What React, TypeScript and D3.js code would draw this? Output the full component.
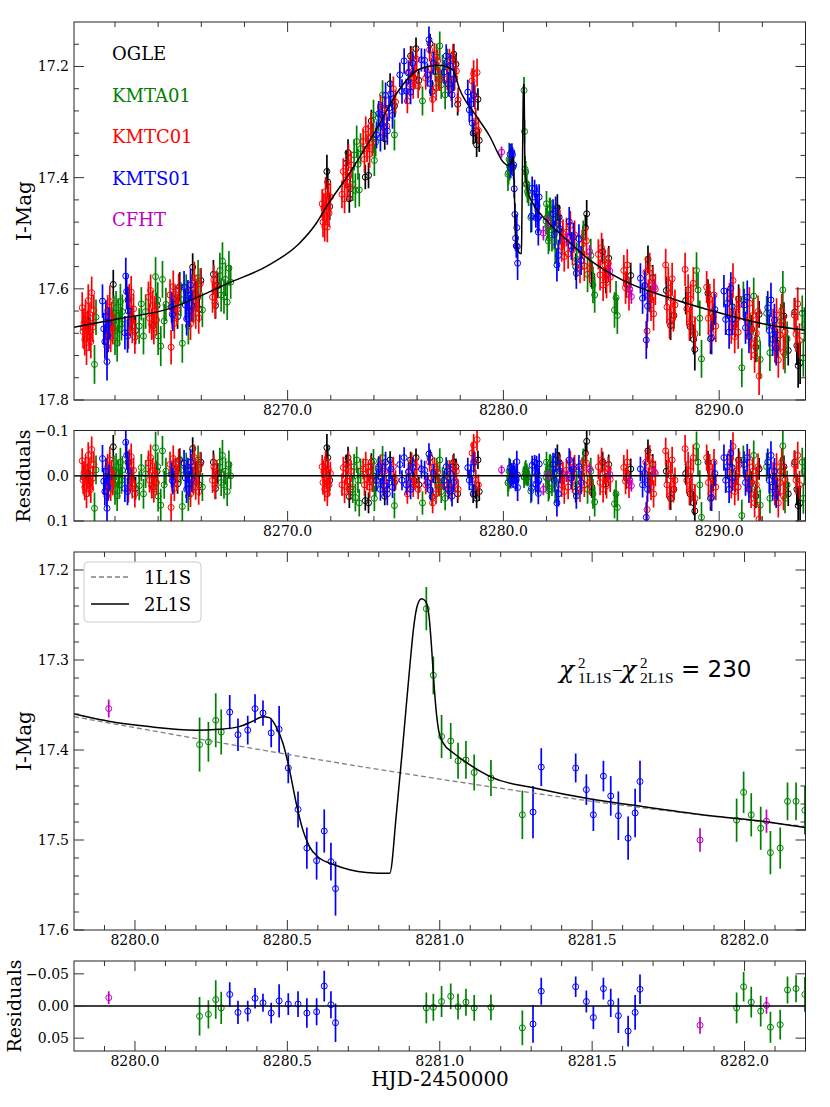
import * as d3 from "d3";
import * as React from "react";

// each point: [HJD-2450000, I mag, error, residual]
type Pt = [number, number, number, number];

const ogle: Pt[] = [
  [8260.55, 17.670, 0.024, 0.003], [8260.75, 17.661, 0.022, -0.005], [8260.85, 17.678, 0.025, 0.013],
  [8261.75, 17.666, 0.023, 0.008], [8261.92, 17.592, 0.026, -0.064], [8262.60, 17.620, 0.024, -0.030],
  [8262.78, 17.652, 0.022, 0.004], [8262.95, 17.675, 0.025, 0.028], [8263.78, 17.666, 0.024, 0.025],
  [8263.95, 17.630, 0.023, -0.010], [8264.72, 17.618, 0.025, -0.015], [8264.90, 17.650, 0.022, 0.018],
  [8265.00, 17.596, 0.026, -0.035], [8265.60, 17.561, 0.025, -0.060], [8265.75, 17.609, 0.023, -0.010],
  [8265.90, 17.636, 0.024, 0.020], [8265.98, 17.585, 0.022, -0.030], [8266.56, 17.574, 0.026, -0.030],
  [8266.66, 17.630, 0.024, 0.028], [8266.76, 17.594, 0.023, -0.005], [8271.82, 17.389, 0.030, -0.062],
  [8271.86, 17.408, 0.026, -0.040], [8271.95, 17.452, 0.024, 0.010], [8272.72, 17.374, 0.022, -0.025],
  [8272.80, 17.355, 0.024, -0.040], [8272.86, 17.438, 0.025, 0.046], [8272.90, 17.420, 0.022, 0.030],
  [8273.60, 17.399, 0.022, 0.055], [8273.75, 17.396, 0.023, 0.060], [8273.88, 17.298, 0.020, -0.030],
  [8273.95, 17.323, 0.021, 0.000], [8274.50, 17.330, 0.020, 0.045], [8274.75, 17.231, 0.019, -0.035],
  [8274.95, 17.271, 0.020, 0.015], [8275.70, 17.181, 0.018, -0.035], [8275.85, 17.221, 0.019, 0.010],
  [8275.95, 17.168, 0.020, -0.040], [8276.08, 17.225, 0.018, 0.020], [8276.60, 17.159, 0.018, -0.040],
  [8276.70, 17.245, 0.020, 0.046], [8276.85, 17.209, 0.018, 0.010], [8277.70, 17.178, 0.019, -0.030],
  [8277.80, 17.196, 0.018, -0.020], [8277.88, 17.268, 0.020, 0.040], [8278.60, 17.320, 0.020, 0.040],
  [8278.70, 17.316, 0.021, 0.030], [8278.76, 17.341, 0.022, 0.050], [8278.82, 17.259, 0.020, -0.035],
  [8278.88, 17.333, 0.021, 0.035], [8282.50, 17.454, 0.024, -0.045], [8282.58, 17.471, 0.022, -0.030],
  [8282.70, 17.514, 0.023, 0.010], [8283.35, 17.560, 0.024, 0.035], [8283.80, 17.490, 0.023, -0.050],
  [8283.86, 17.465, 0.025, -0.076], [8284.10, 17.576, 0.024, 0.025], [8284.60, 17.533, 0.023, -0.030],
  [8284.75, 17.584, 0.024, 0.018], [8284.88, 17.545, 0.022, -0.025], [8285.70, 17.592, 0.024, 0.005],
  [8285.90, 17.576, 0.023, -0.015], [8286.70, 17.547, 0.025, -0.055], [8286.80, 17.618, 0.024, 0.015],
  [8286.92, 17.580, 0.023, -0.025], [8287.55, 17.603, 0.025, -0.010], [8287.75, 17.666, 0.026, 0.050],
  [8287.90, 17.648, 0.024, 0.030], [8288.45, 17.621, 0.025, -0.005], [8288.65, 17.668, 0.026, 0.040],
  [8288.82, 17.691, 0.027, 0.060], [8288.87, 17.709, 0.038, 0.078], [8289.48, 17.608, 0.025, -0.030],
  [8289.60, 17.690, 0.027, 0.050], [8289.72, 17.651, 0.024, 0.010], [8290.60, 17.632, 0.025, -0.018],
  [8290.75, 17.663, 0.024, 0.012], [8290.90, 17.618, 0.026, -0.035], [8291.50, 17.672, 0.025, 0.015],
  [8291.70, 17.705, 0.027, 0.045], [8291.85, 17.646, 0.024, -0.015], [8292.70, 17.698, 0.026, 0.030],
  [8293.00, 17.649, 0.025, -0.020], [8293.20, 17.711, 0.027, 0.040], [8293.50, 17.642, 0.026, -0.030],
  [8293.60, 17.702, 0.035, 0.030], [8293.66, 17.738, 0.040, 0.066], [8293.75, 17.733, 0.038, 0.060],
];

const kmta: Pt[] = [
  [8261.05, 17.736, 0.035, 0.072], [8261.12, 17.651, 0.032, -0.013], [8261.88, 17.666, 0.030, 0.010],
  [8261.95, 17.644, 0.032, -0.012], [8262.00, 17.685, 0.034, 0.030], [8262.05, 17.634, 0.030, -0.020],
  [8262.10, 17.698, 0.033, 0.045], [8262.15, 17.648, 0.031, -0.005], [8262.20, 17.673, 0.030, 0.020],
  [8262.25, 17.623, 0.032, -0.030], [8262.30, 17.663, 0.030, 0.010], [8262.34, 17.641, 0.031, -0.012],
  [8263.12, 17.667, 0.032, 0.022], [8263.22, 17.627, 0.030, -0.018], [8263.32, 17.685, 0.033, 0.040],
  [8263.42, 17.641, 0.031, -0.004], [8263.88, 17.578, 0.035, -0.062], [8263.98, 17.620, 0.032, -0.020],
  [8264.00, 17.685, 0.034, 0.045], [8264.12, 17.703, 0.036, 0.065], [8264.20, 17.583, 0.033, -0.055],
  [8264.28, 17.658, 0.031, 0.020], [8264.36, 17.628, 0.030, -0.010], [8265.05, 17.619, 0.031, -0.012],
  [8265.12, 17.698, 0.035, 0.068], [8265.30, 17.605, 0.031, -0.020], [8265.40, 17.667, 0.033, 0.045],
  [8265.65, 17.631, 0.030, 0.010], [8265.85, 17.580, 0.032, -0.035], [8266.05, 17.638, 0.031, 0.025],
  [8266.86, 17.567, 0.032, -0.030], [8266.92, 17.611, 0.030, 0.015], [8266.98, 17.550, 0.034, -0.045],
  [8267.05, 17.614, 0.031, 0.020], [8267.12, 17.583, 0.030, -0.010], [8267.20, 17.624, 0.032, 0.035],
  [8267.28, 17.563, 0.031, -0.025], [8267.36, 17.588, 0.030, 0.000], [8273.02, 17.412, 0.030, 0.030],
  [8273.08, 17.359, 0.028, -0.020], [8273.14, 17.423, 0.031, 0.048], [8273.20, 17.335, 0.029, -0.035],
  [8273.26, 17.376, 0.028, 0.010], [8273.32, 17.422, 0.030, 0.060], [8273.38, 17.348, 0.028, -0.010],
  [8273.96, 17.330, 0.026, 0.010], [8273.98, 17.287, 0.027, -0.032], [8274.02, 17.369, 0.028, 0.050],
  [8274.08, 17.336, 0.026, 0.020], [8274.20, 17.292, 0.025, -0.015], [8274.40, 17.251, 0.026, -0.040],
  [8274.95, 17.323, 0.028, 0.066], [8276.25, 17.262, 0.026, 0.060], [8276.90, 17.183, 0.024, -0.015],
  [8276.98, 17.218, 0.025, 0.020], [8277.05, 17.163, 0.026, -0.035], [8277.12, 17.233, 0.025, 0.035],
  [8277.18, 17.203, 0.024, 0.005], [8277.30, 17.251, 0.026, 0.050], [8277.40, 17.192, 0.024, -0.010],
  [8277.50, 17.223, 0.025, 0.020], [8282.25, 17.503, 0.030, 0.015], [8282.32, 17.476, 0.028, -0.015],
  [8282.40, 17.524, 0.031, 0.030], [8282.46, 17.491, 0.029, -0.005], [8283.40, 17.547, 0.031, 0.020],
  [8283.70, 17.507, 0.030, -0.030], [8283.90, 17.574, 0.032, 0.030], [8284.05, 17.540, 0.030, -0.010],
  [8284.15, 17.593, 0.033, 0.040], [8284.23, 17.611, 0.032, 0.058], [8285.15, 17.638, 0.032, 0.062],
  [8285.22, 17.616, 0.030, 0.040], [8285.28, 17.648, 0.033, 0.070], [8288.95, 17.567, 0.033, -0.065],
  [8289.02, 17.602, 0.031, -0.030], [8289.10, 17.653, 0.032, 0.020], [8289.18, 17.726, 0.034, 0.092],
  [8291.05, 17.742, 0.035, 0.088], [8291.12, 17.619, 0.032, -0.035], [8291.45, 17.677, 0.031, 0.020],
  [8291.60, 17.613, 0.033, -0.045], [8291.75, 17.690, 0.032, 0.030], [8291.90, 17.727, 0.034, 0.065],
  [8292.20, 17.644, 0.031, -0.020], [8292.35, 17.715, 0.033, 0.050], [8292.85, 17.658, 0.031, -0.010],
  [8292.95, 17.602, 0.034, -0.066], [8293.05, 17.719, 0.033, 0.050], [8293.15, 17.690, 0.031, 0.020],
  [8293.85, 17.644, 0.032, -0.030], [8293.90, 17.724, 0.034, 0.050], [8293.95, 17.664, 0.031, -0.010],
];

const kmtc: Pt[] = [
  [8260.48, 17.634, 0.028, -0.033], [8260.52, 17.677, 0.030, 0.010], [8260.56, 17.662, 0.027, -0.005],
  [8260.60, 17.691, 0.029, 0.025], [8260.64, 17.648, 0.028, -0.018], [8260.68, 17.706, 0.031, 0.040],
  [8260.72, 17.668, 0.027, 0.002], [8260.76, 17.621, 0.029, -0.045], [8260.80, 17.684, 0.028, 0.018],
  [8260.84, 17.653, 0.027, -0.012], [8260.88, 17.695, 0.030, 0.030], [8260.92, 17.607, 0.029, -0.058],
  [8260.97, 17.669, 0.027, 0.005], [8261.02, 17.639, 0.028, -0.025], [8261.62, 17.704, 0.030, 0.045],
  [8261.66, 17.639, 0.028, -0.020], [8261.70, 17.669, 0.027, 0.010], [8261.76, 17.623, 0.029, -0.035],
  [8261.80, 17.686, 0.028, 0.028], [8261.85, 17.650, 0.027, -0.008], [8261.90, 17.672, 0.028, 0.015],
  [8262.62, 17.679, 0.029, 0.030], [8262.66, 17.619, 0.028, -0.030], [8262.70, 17.657, 0.027, 0.008],
  [8262.75, 17.606, 0.029, -0.042], [8262.80, 17.670, 0.028, 0.022], [8262.86, 17.636, 0.027, -0.012],
  [8262.92, 17.687, 0.030, 0.040], [8263.55, 17.615, 0.028, -0.028], [8263.60, 17.653, 0.027, 0.010],
  [8263.65, 17.603, 0.029, -0.040], [8263.70, 17.664, 0.028, 0.022], [8263.75, 17.630, 0.027, -0.012],
  [8263.80, 17.671, 0.029, 0.030], [8263.85, 17.640, 0.027, -0.002], [8263.92, 17.656, 0.028, 0.015],
  [8264.55, 17.611, 0.028, -0.025], [8264.60, 17.705, 0.031, 0.070], [8264.65, 17.645, 0.027, 0.010],
  [8264.70, 17.596, 0.029, -0.038], [8264.75, 17.662, 0.028, 0.028], [8264.82, 17.621, 0.027, -0.012],
  [8264.88, 17.637, 0.028, 0.005], [8264.95, 17.602, 0.029, -0.030], [8265.50, 17.663, 0.029, 0.040],
  [8265.56, 17.602, 0.028, -0.020], [8265.62, 17.633, 0.027, 0.012], [8265.68, 17.580, 0.029, -0.040],
  [8265.74, 17.644, 0.028, 0.025], [8265.80, 17.614, 0.027, -0.005], [8265.88, 17.652, 0.029, 0.035],
  [8265.95, 17.591, 0.028, -0.025], [8266.52, 17.615, 0.028, 0.010], [8266.58, 17.584, 0.027, -0.020],
  [8266.64, 17.625, 0.029, 0.022], [8266.70, 17.595, 0.027, -0.008], [8271.60, 17.447, 0.026, -0.020],
  [8271.64, 17.480, 0.027, 0.015], [8271.68, 17.454, 0.025, -0.008], [8271.72, 17.488, 0.027, 0.030],
  [8271.76, 17.425, 0.026, -0.030], [8271.80, 17.457, 0.025, 0.005], [8271.84, 17.489, 0.027, 0.040],
  [8271.88, 17.432, 0.026, -0.015], [8271.92, 17.464, 0.025, 0.020], [8271.98, 17.435, 0.026, -0.005],
  [8272.52, 17.430, 0.025, 0.020], [8272.58, 17.389, 0.024, -0.018], [8272.64, 17.438, 0.026, 0.035],
  [8272.70, 17.395, 0.024, -0.005], [8272.76, 17.408, 0.025, 0.012], [8272.82, 17.364, 0.024, -0.030],
  [8272.88, 17.416, 0.025, 0.025], [8272.94, 17.377, 0.024, -0.010], [8273.50, 17.335, 0.023, -0.015],
  [8273.56, 17.367, 0.024, 0.020], [8273.62, 17.313, 0.023, -0.030], [8273.68, 17.348, 0.024, 0.008],
  [8273.74, 17.328, 0.023, -0.008], [8273.80, 17.358, 0.024, 0.025], [8273.86, 17.307, 0.023, -0.022],
  [8273.92, 17.337, 0.024, 0.012], [8274.30, 17.273, 0.022, -0.025], [8274.40, 17.306, 0.023, 0.015],
  [8274.50, 17.275, 0.022, -0.010], [8274.60, 17.307, 0.023, 0.030], [8274.90, 17.240, 0.022, -0.020],
  [8275.00, 17.264, 0.022, 0.010], [8275.55, 17.262, 0.022, 0.040], [8275.62, 17.210, 0.021, -0.010],
  [8275.68, 17.232, 0.022, 0.015], [8275.75, 17.184, 0.021, -0.030], [8275.82, 17.236, 0.022, 0.025],
  [8275.90, 17.214, 0.021, 0.005], [8275.98, 17.187, 0.021, -0.020], [8276.05, 17.235, 0.022, 0.030],
  [8276.40, 17.221, 0.021, 0.020], [8276.58, 17.170, 0.021, -0.030], [8276.66, 17.204, 0.020, 0.005],
  [8276.72, 17.259, 0.023, 0.060], [8276.80, 17.179, 0.021, -0.020], [8276.88, 17.239, 0.022, 0.040],
  [8276.95, 17.190, 0.021, -0.008], [8277.05, 17.223, 0.021, 0.025], [8277.40, 17.222, 0.021, 0.020],
  [8277.50, 17.188, 0.020, -0.015], [8277.58, 17.240, 0.022, 0.035], [8277.66, 17.181, 0.021, -0.025],
  [8277.74, 17.221, 0.021, 0.010], [8277.82, 17.208, 0.020, -0.010], [8277.90, 17.260, 0.022, 0.030],
  [8278.55, 17.226, 0.023, -0.050], [8278.62, 17.213, 0.024, -0.068], [8278.68, 17.255, 0.022, -0.030],
  [8278.72, 17.298, 0.023, 0.010], [8278.78, 17.211, 0.025, -0.080], [8278.84, 17.315, 0.023, 0.020],
  [8282.62, 17.484, 0.026, -0.018], [8282.70, 17.524, 0.027, 0.020], [8282.76, 17.501, 0.026, -0.005],
  [8282.82, 17.542, 0.027, 0.035], [8282.92, 17.498, 0.026, -0.012], [8283.00, 17.537, 0.027, 0.025],
  [8283.10, 17.486, 0.026, -0.030], [8283.20, 17.530, 0.027, 0.010], [8283.30, 17.503, 0.026, -0.020],
  [8283.55, 17.562, 0.028, 0.030], [8283.65, 17.520, 0.026, -0.015], [8283.75, 17.559, 0.027, 0.020],
  [8283.85, 17.514, 0.026, -0.028], [8284.00, 17.563, 0.027, 0.015], [8284.40, 17.538, 0.027, -0.020],
  [8284.48, 17.575, 0.028, 0.015], [8284.55, 17.526, 0.027, -0.035], [8284.62, 17.593, 0.029, 0.030],
  [8284.70, 17.557, 0.027, -0.008], [8284.78, 17.589, 0.028, 0.022], [8284.86, 17.554, 0.027, -0.015],
  [8284.95, 17.579, 0.028, 0.008], [8285.58, 17.567, 0.028, -0.018], [8285.66, 17.598, 0.029, 0.012],
  [8285.74, 17.557, 0.028, -0.030], [8285.82, 17.610, 0.029, 0.020], [8286.60, 17.570, 0.028, -0.030],
  [8286.66, 17.676, 0.031, 0.075], [8286.72, 17.612, 0.029, 0.010], [8286.78, 17.563, 0.028, -0.040],
  [8286.84, 17.629, 0.029, 0.025], [8286.90, 17.594, 0.028, -0.010], [8286.96, 17.645, 0.030, 0.040],
  [8287.04, 17.601, 0.028, -0.005], [8287.52, 17.557, 0.029, -0.055], [8287.58, 17.633, 0.029, 0.020],
  [8287.64, 17.589, 0.028, -0.025], [8287.70, 17.660, 0.030, 0.045], [8287.76, 17.616, 0.028, 0.000],
  [8287.82, 17.582, 0.029, -0.035], [8287.88, 17.648, 0.029, 0.030], [8287.95, 17.629, 0.028, 0.010],
  [8288.42, 17.565, 0.030, -0.060], [8288.50, 17.636, 0.029, 0.010], [8288.56, 17.602, 0.028, -0.025],
  [8288.62, 17.663, 0.030, 0.035], [8288.68, 17.619, 0.028, -0.010], [8288.74, 17.655, 0.029, 0.025],
  [8288.80, 17.590, 0.029, -0.040], [8288.88, 17.681, 0.031, 0.050], [8289.42, 17.597, 0.029, -0.040],
  [8289.50, 17.653, 0.029, 0.015], [8289.56, 17.619, 0.028, -0.020], [8289.62, 17.680, 0.030, 0.040],
  [8289.68, 17.645, 0.028, 0.005], [8289.76, 17.611, 0.029, -0.030], [8289.84, 17.667, 0.029, 0.025],
  [8290.48, 17.618, 0.029, -0.030], [8290.56, 17.669, 0.030, 0.020], [8290.64, 17.585, 0.031, -0.065],
  [8290.72, 17.686, 0.030, 0.035], [8290.80, 17.642, 0.029, -0.010], [8290.88, 17.678, 0.030, 0.025],
  [8290.94, 17.628, 0.029, -0.025], [8291.30, 17.660, 0.029, 0.005], [8291.40, 17.626, 0.029, -0.030],
  [8291.48, 17.697, 0.031, 0.040], [8291.56, 17.648, 0.029, -0.010], [8291.64, 17.719, 0.032, 0.060],
  [8291.72, 17.680, 0.030, 0.020], [8291.80, 17.641, 0.029, -0.020], [8291.85, 17.757, 0.034, 0.096],
  [8292.50, 17.666, 0.030, 0.000], [8292.58, 17.702, 0.031, 0.035], [8292.66, 17.647, 0.030, -0.020],
  [8292.74, 17.728, 0.032, 0.060], [8292.82, 17.683, 0.030, 0.015], [8292.90, 17.639, 0.030, -0.030],
  [8292.98, 17.714, 0.031, 0.045], [8293.06, 17.677, 0.030, 0.008], [8293.48, 17.647, 0.030, -0.025],
  [8293.56, 17.682, 0.031, 0.010], [8293.64, 17.627, 0.030, -0.045], [8293.72, 17.693, 0.031, 0.020],
];

const kmts: Pt[] = [
  [8261.42, 17.622, 0.030, -0.038], [8261.48, 17.672, 0.029, 0.012], [8261.53, 17.695, 0.031, 0.035],
  [8261.58, 17.650, 0.029, -0.010], [8261.63, 17.731, 0.034, 0.072], [8261.68, 17.684, 0.030, 0.025],
  [8261.72, 17.662, 0.029, 0.004], [8262.46, 17.679, 0.030, 0.028], [8262.50, 17.577, 0.033, -0.074],
  [8262.54, 17.605, 0.031, -0.045], [8262.58, 17.685, 0.030, 0.035], [8262.62, 17.640, 0.029, -0.010],
  [8264.62, 17.633, 0.028, -0.002], [8264.68, 17.647, 0.029, 0.012], [8265.20, 17.597, 0.029, -0.028],
  [8265.26, 17.629, 0.028, 0.005], [8265.32, 17.654, 0.030, 0.030], [8265.38, 17.612, 0.028, -0.012],
  [8265.44, 17.640, 0.029, 0.018], [8265.50, 17.593, 0.029, -0.030], [8265.56, 17.630, 0.028, 0.008],
  [8274.12, 17.323, 0.024, 0.010], [8274.22, 17.285, 0.023, -0.020], [8274.30, 17.328, 0.025, 0.030],
  [8274.38, 17.287, 0.023, -0.005], [8274.46, 17.310, 0.024, 0.022], [8274.54, 17.252, 0.023, -0.030],
  [8274.62, 17.316, 0.025, 0.040], [8274.70, 17.275, 0.023, 0.005], [8274.78, 17.249, 0.023, -0.015],
  [8274.86, 17.288, 0.024, 0.025], [8275.20, 17.215, 0.022, -0.025], [8275.30, 17.245, 0.022, 0.010],
  [8275.40, 17.190, 0.023, -0.040], [8275.50, 17.244, 0.022, 0.020], [8275.60, 17.212, 0.021, -0.008],
  [8275.70, 17.246, 0.022, 0.030], [8275.80, 17.194, 0.021, -0.018], [8276.20, 17.188, 0.021, -0.015],
  [8276.35, 17.189, 0.021, -0.012], [8276.48, 17.215, 0.021, 0.015], [8276.55, 17.152, 0.024, -0.048],
  [8276.62, 17.231, 0.022, 0.032], [8276.75, 17.194, 0.021, -0.005], [8277.25, 17.210, 0.021, 0.010],
  [8277.35, 17.181, 0.021, -0.020], [8277.45, 17.232, 0.022, 0.030], [8277.55, 17.199, 0.021, -0.005],
  [8277.62, 17.251, 0.023, 0.045], [8277.70, 17.223, 0.021, 0.015], [8278.35, 17.246, 0.022, -0.018],
  [8278.42, 17.278, 0.022, 0.010], [8278.50, 17.268, 0.021, -0.005], [8278.56, 17.302, 0.023, 0.025],
  [8278.62, 17.251, 0.022, -0.030], [8282.30, 17.465, 0.026, -0.025], [8282.36, 17.502, 0.025, 0.010],
  [8282.42, 17.460, 0.026, -0.035], [8282.48, 17.557, 0.030, 0.060], [8282.55, 17.540, 0.028, 0.040],
  [8282.62, 17.492, 0.025, -0.010], [8283.05, 17.479, 0.026, -0.035], [8283.15, 17.523, 0.025, 0.005],
  [8283.25, 17.507, 0.026, -0.015], [8283.38, 17.572, 0.028, 0.045], [8283.50, 17.510, 0.026, -0.020],
  [8283.60, 17.549, 0.026, 0.015], [8286.35, 17.581, 0.027, -0.015], [8286.45, 17.617, 0.028, 0.020],
  [8286.55, 17.594, 0.027, -0.005], [8286.62, 17.692, 0.034, 0.092], [8286.68, 17.631, 0.028, 0.030],
  [8289.65, 17.688, 0.030, 0.048], [8289.80, 17.637, 0.028, -0.005], [8290.22, 17.604, 0.029, -0.040],
  [8290.30, 17.655, 0.028, 0.010], [8290.38, 17.626, 0.028, -0.020], [8290.46, 17.678, 0.030, 0.030],
  [8290.54, 17.599, 0.029, -0.050], [8290.62, 17.655, 0.028, 0.005], [8291.15, 17.629, 0.029, -0.025],
  [8291.22, 17.670, 0.029, 0.015], [8291.30, 17.615, 0.030, -0.040], [8291.38, 17.686, 0.030, 0.030],
  [8292.25, 17.634, 0.030, -0.030], [8292.32, 17.675, 0.029, 0.010], [8292.40, 17.620, 0.031, -0.045],
  [8292.48, 17.691, 0.030, 0.025], [8292.56, 17.656, 0.029, -0.010], [8292.64, 17.707, 0.031, 0.040],
];

const cfht: Pt[] = [
  [8282.95, 17.511, 0.012, 0.000], [8284.00, 17.533, 0.012, -0.015], [8284.93, 17.568, 0.012, -0.003],
  [8285.86, 17.601, 0.012, 0.010], [8285.93, 17.614, 0.013, 0.022], [8287.00, 17.597, 0.012, -0.008],
];

// points inside the anomaly window (lower panels)
const kmtaZoom: Pt[] = [
  [8280.212, 17.394, 0.030, 0.016], [8280.241, 17.391, 0.022, 0.013], [8280.265, 17.367, 0.030, -0.010],
  [8280.283, 17.380, 0.025, 0.003], [8280.956, 17.243, 0.024, 0.003], [8280.979, 17.317, 0.021, 0.002],
  [8281.006, 17.385, 0.024, -0.007], [8281.036, 17.390, 0.020, -0.015], [8281.060, 17.412, 0.020, 0.001],
  [8281.086, 17.411, 0.021, -0.006], [8281.113, 17.425, 0.020, 0.003], [8281.168, 17.431, 0.020, 0.002],
  [8281.271, 17.472, 0.027, 0.034], [8281.974, 17.478, 0.024, 0.003], [8281.997, 17.447, 0.023, -0.030],
  [8282.022, 17.472, 0.024, -0.006], [8282.053, 17.487, 0.024, 0.008], [8282.085, 17.514, 0.024, 0.033],
  [8282.117, 17.509, 0.023, 0.029], [8282.141, 17.457, 0.021, -0.025], [8282.169, 17.457, 0.021, -0.027],
  [8282.198, 17.467, 0.027, -0.018],
];

const kmtsZoom: Pt[] = [
  [8280.311, 17.358, 0.019, -0.018], [8280.338, 17.383, 0.018, 0.010], [8280.370, 17.378, 0.016, 0.008],
  [8280.394, 17.354, 0.016, -0.012], [8280.420, 17.359, 0.014, -0.005], [8280.447, 17.381, 0.016, 0.011],
  [8280.473, 17.377, 0.026, -0.008], [8280.503, 17.420, 0.017, -0.003], [8280.535, 17.466, 0.020, -0.003],
  [8280.564, 17.509, 0.023, 0.011], [8280.596, 17.523, 0.021, 0.009], [8280.621, 17.490, 0.024, -0.031],
  [8280.643, 17.524, 0.021, -0.002], [8280.658, 17.554, 0.030, 0.026], [8281.306, 17.469, 0.029, 0.028],
  [8281.333, 17.419, 0.021, -0.023], [8281.446, 17.420, 0.016, -0.030], [8281.481, 17.444, 0.017, -0.007],
  [8281.504, 17.472, 0.018, 0.018], [8281.537, 17.429, 0.017, -0.027], [8281.561, 17.451, 0.022, -0.005],
  [8281.586, 17.473, 0.027, 0.015], [8281.618, 17.498, 0.024, 0.039], [8281.641, 17.470, 0.027, 0.010],
  [8281.657, 17.435, 0.023, -0.026],
];

const cfhtZoom: Pt[] = [
  [8279.914, 17.354, 0.010, -0.013], [8281.854, 17.500, 0.013, 0.030], [8282.072, 17.479, 0.013, -0.001],
];

// model curves: [HJD-2450000, I mag]
const model2L1S: [number, number][] = [
  [8260.0, 17.670], [8262.0, 17.655], [8264.4, 17.637], [8267.3, 17.589], [8269.0, 17.560],
  [8270.55, 17.518], [8271.33, 17.482], [8271.8, 17.452], [8272.9, 17.390], [8274.1, 17.314],
  [8275.2, 17.240], [8276.1, 17.205], [8277.0, 17.198], [8277.65, 17.206], [8277.98, 17.242],
  [8278.76, 17.290], [8279.37, 17.326], [8279.80, 17.360], [8279.914, 17.368], [8280.046, 17.374],
  [8280.20, 17.378], [8280.276, 17.377], [8280.342, 17.374], [8280.386, 17.368], [8280.419, 17.363],
  [8280.441, 17.364], [8280.463, 17.374], [8280.485, 17.392], [8280.507, 17.422], [8280.529, 17.459],
  [8280.551, 17.489], [8280.572, 17.507], [8280.605, 17.520], [8280.649, 17.527], [8280.704, 17.533],
  [8280.759, 17.536], [8280.836, 17.537], [8280.858, 17.470], [8280.880, 17.390], [8280.901, 17.310],
  [8280.915, 17.262], [8280.926, 17.240], [8280.940, 17.232], [8280.954, 17.235], [8280.965, 17.252],
  [8280.973, 17.285], [8280.980, 17.322], [8280.989, 17.359], [8280.998, 17.381], [8281.011, 17.392],
  [8281.044, 17.403], [8281.088, 17.414], [8281.175, 17.431], [8281.307, 17.442], [8281.504, 17.455],
  [8281.669, 17.463], [8281.888, 17.473], [8282.053, 17.479], [8282.20, 17.486], [8282.6, 17.500],
  [8284.0, 17.548], [8285.5, 17.584], [8288.0, 17.620], [8290.0, 17.643], [8292.3, 17.665],
  [8294.0, 17.674],
];

const model1L1S: [number, number][] = [
  [8279.8, 17.363], [8280.9, 17.427], [8281.5, 17.457], [8282.2, 17.485],
];

const seriesNames = ["OGLE", "KMTA01", "KMTC01", "KMTS01", "CFHT"];
const seriesColors = ["#000000", "#008000", "#ff0000", "#0000ff", "#bf00bf"];
const seriesData = [ogle, [...kmta, ...kmtaZoom], kmtc, [...kmts, ...kmtsZoom], [...cfht, ...cfhtZoom]];

// tick values
const fullXMajor = [8270, 8280, 8290];
const fullXMinor = [8262, 8264, 8266, 8268, 8272, 8274, 8276, 8278, 8282, 8284, 8286, 8288, 8292];
const magYMajor = [17.2, 17.4, 17.6, 17.8];
const magYMinor = [17.16, 17.24, 17.28, 17.32, 17.36, 17.44, 17.48, 17.52, 17.56, 17.64, 17.68, 17.72, 17.76];
const res1YMajor = [-0.1, 0, 0.1];
const zoomXMajor = [8280, 8280.5, 8281, 8281.5, 8282];
const zoomXMinor = [8279.9, 8280.1, 8280.2, 8280.3, 8280.4, 8280.6, 8280.7, 8280.8, 8280.9, 8281.1,
  8281.2, 8281.3, 8281.4, 8281.6, 8281.7, 8281.8, 8281.9, 8282.1];
const zoomYMajor = [17.2, 17.3, 17.4, 17.5, 17.6];
const zoomYMinor = [17.22, 17.24, 17.26, 17.28, 17.32, 17.34, 17.36, 17.38, 17.42, 17.44, 17.46, 17.48,
  17.52, 17.54, 17.56, 17.58];
const res2YMajor = [-0.05, 0, 0.05];

const FONT = "DejaVu Serif";
const MATH = "Liberation Serif";
const L = 74;
const R = 805.5;

type Scale = d3.ScaleLinear<number, number>;

function Axes(props: {
  id: string; x: Scale; y: Scale;
  xMajor: number[]; xMinor: number[]; yMajor: number[]; yMinor: number[];
  xFmt: (v: number) => string; yFmt: (v: number) => string;
  children?: React.ReactNode;
}) {
  const { id, x, y, xMajor, xMinor, yMajor, yMinor, xFmt, yFmt } = props;
  const [x0, x1] = x.range();
  const [y0, y1] = y.range();
  const big = 10;
  const small = 5;
  return (
    <g>
      <defs>
        <clipPath id={id}>
          <rect x={x0} y={y0} width={x1 - x0} height={y1 - y0} />
        </clipPath>
      </defs>
      <g clipPath={`url(#${id})`}>{props.children}</g>
      <g stroke="#333" strokeWidth={1}>
        {xMajor.map((v) => (
          <g key={"xa" + v}>
            <line x1={x(v)} x2={x(v)} y1={y1} y2={y1 - big} />
            <line x1={x(v)} x2={x(v)} y1={y0} y2={y0 + big} />
          </g>
        ))}
        {xMinor.map((v) => (
          <g key={"xi" + v}>
            <line x1={x(v)} x2={x(v)} y1={y1} y2={y1 - small} />
            <line x1={x(v)} x2={x(v)} y1={y0} y2={y0 + small} />
          </g>
        ))}
        {yMajor.map((v) => (
          <g key={"ya" + v}>
            <line x1={x0} x2={x0 + big} y1={y(v)} y2={y(v)} />
            <line x1={x1} x2={x1 - big} y1={y(v)} y2={y(v)} />
          </g>
        ))}
        {yMinor.map((v) => (
          <g key={"yi" + v}>
            <line x1={x0} x2={x0 + small} y1={y(v)} y2={y(v)} />
            <line x1={x1} x2={x1 - small} y1={y(v)} y2={y(v)} />
          </g>
        ))}
      </g>
      <rect x={x0} y={y0} width={x1 - x0} height={y1 - y0} fill="none" stroke="#222" strokeWidth={1} />
      <g fontFamily={FONT} fontSize={14} fill="#000">
        {xMajor.map((v) => (
          <text key={"xl" + v} x={x(v)} y={y1 + 15} textAnchor="middle">{xFmt(v)}</text>
        ))}
        {yMajor.map((v) => (
          <text key={"yl" + v} x={x0 - 5} y={y(v) + 5} textAnchor="end">{yFmt(v)}</text>
        ))}
      </g>
    </g>
  );
}

function Points({ x, y, col }: { x: Scale; y: Scale; col: 1 | 3 }) {
  const [d0, d1] = x.domain();
  return (
    <g>
      {seriesData.map((data, s) => (
        <g key={s} stroke={seriesColors[s]} fill="none">
          {data
            .filter((d) => d[0] > d0 - 0.05 && d[0] < d1 + 0.05)
            .map((d, i) => {
              const cx = x(d[0]);
              const v = d[col];
              return (
                <g key={i}>
                  <line x1={cx} x2={cx} y1={y(v - d[2])} y2={y(v + d[2])} strokeWidth={1.7} />
                  <circle cx={cx} cy={y(v)} r={3} strokeWidth={1} />
                </g>
              );
            })}
        </g>
      ))}
    </g>
  );
}

export default function App() {
  const xFull = d3.scaleLinear([8260.1, 8294.0], [L, R]);
  const yMag = d3.scaleLinear([17.12, 17.8], [22, 400]);
  const yRes1 = d3.scaleLinear([-0.1, 0.1], [430.5, 521]);
  const xZoom = d3.scaleLinear([8279.8, 8282.2], [L, R]);
  const yZoom = d3.scaleLinear([17.18, 17.6], [552, 930]);
  const yRes2 = d3.scaleLinear([-0.07, 0.07], [961, 1051]);

  const f1 = d3.format(".1f");
  const f2 = d3.format(".2f");

  const lineFull = d3.line<[number, number]>()
    .x((d) => xFull(d[0]))
    .y((d) => yMag(d[1]))
    .curve(d3.curveMonotoneX);
  const lineZoom = d3.line<[number, number]>()
    .x((d) => xZoom(d[0]))
    .y((d) => yZoom(d[1]))
    .curve(d3.curveMonotoneX);

  return (
    <svg
      width={830}
      height={1107}
      viewBox="0 0 830 1107"
      style={{ position: "absolute", left: 0, top: 0, background: "#fff" }}
    >
      {/* full light curve */}
      <Axes id="c1" x={xFull} y={yMag} xMajor={fullXMajor} xMinor={fullXMinor}
        yMajor={magYMajor} yMinor={magYMinor} xFmt={f1} yFmt={f1}>
        <Points x={xFull} y={yMag} col={1} />
        <path d={lineFull(model2L1S) ?? ""} fill="none" stroke="#000" strokeWidth={1.5} />
      </Axes>
      <g fontFamily={FONT} fontSize={18}>
        {seriesNames.map((n, i) => (
          <text key={n} x={112} y={60 + i * 41.5} fill={seriesColors[i]}>{n}</text>
        ))}
      </g>
      <text transform="translate(31,211) rotate(-90)" textAnchor="middle" fontFamily={FONT} fontSize={20}>I-Mag</text>

      {/* residuals of full light curve */}
      <Axes id="c2" x={xFull} y={yRes1} xMajor={fullXMajor} xMinor={fullXMinor}
        yMajor={res1YMajor} yMinor={[]} xFmt={f1} yFmt={f1}>
        <Points x={xFull} y={yRes1} col={3} />
        <line x1={L} x2={R} y1={yRes1(0)} y2={yRes1(0)} stroke="#000" strokeWidth={1.5} />
      </Axes>
      <text transform="translate(30,476) rotate(-90)" textAnchor="middle" fontFamily={FONT} fontSize={19}>Residuals</text>

      {/* anomaly zoom */}
      <Axes id="c3" x={xZoom} y={yZoom} xMajor={zoomXMajor} xMinor={zoomXMinor}
        yMajor={zoomYMajor} yMinor={zoomYMinor} xFmt={f1} yFmt={f1}>
        <Points x={xZoom} y={yZoom} col={1} />
        <path d={lineZoom(model1L1S) ?? ""} fill="none" stroke="#808080" strokeWidth={1.3} strokeDasharray="5,3" />
        <path d={lineZoom(model2L1S) ?? ""} fill="none" stroke="#000" strokeWidth={1.5} />
      </Axes>
      <text transform="translate(31,741) rotate(-90)" textAnchor="middle" fontFamily={FONT} fontSize={20}>I-Mag</text>

      <g>
        <rect x={84} y={562} width={117} height={60} rx={4} fill="#fff" fillOpacity={0.8} stroke="#cccccc" strokeWidth={1} />
        <line x1={91} x2={129} y1={577} y2={577} stroke="#808080" strokeWidth={1.3} strokeDasharray="5,3" />
        <line x1={91} x2={129} y1={604} y2={604} stroke="#000" strokeWidth={1.5} />
        <text x={144} y={584} fontFamily={FONT} fontSize={18}>1L1S</text>
        <text x={144} y={611} fontFamily={FONT} fontSize={18}>2L1S</text>
      </g>

      <g fill="#000">
        <text x={559} y={678} fontFamily={FONT} fontStyle="italic" fontSize={25}>χ</text>
        <text x={578} y={668} fontFamily={MATH} fontSize={15}>2</text>
        <text x={578} y={683} fontFamily={MATH} fontSize={15.5}>1L1S</text>
        <text x={612} y={677} fontFamily={MATH} fontSize={19}>−</text>
        <text x={621} y={678} fontFamily={FONT} fontStyle="italic" fontSize={25}>χ</text>
        <text x={640} y={668} fontFamily={MATH} fontSize={15}>2</text>
        <text x={640} y={683} fontFamily={MATH} fontSize={15.5}>2L1S</text>
        <text x={681} y={677} fontFamily="DejaVu Sans" fontSize={23}>= 230</text>
      </g>

      {/* residuals of anomaly */}
      <Axes id="c4" x={xZoom} y={yRes2} xMajor={zoomXMajor} xMinor={zoomXMinor}
        yMajor={res2YMajor} yMinor={[]} xFmt={f1} yFmt={f2}>
        <Points x={xZoom} y={yRes2} col={3} />
        <line x1={L} x2={R} y1={yRes2(0)} y2={yRes2(0)} stroke="#000" strokeWidth={1.5} />
      </Axes>
      <text transform="translate(21,1006) rotate(-90)" textAnchor="middle" fontFamily={FONT} fontSize={19}>Residuals</text>

      <text x={440} y={1086} textAnchor="middle" fontFamily={FONT} fontSize={20}>HJD-2450000</text>
    </svg>
  );
}
